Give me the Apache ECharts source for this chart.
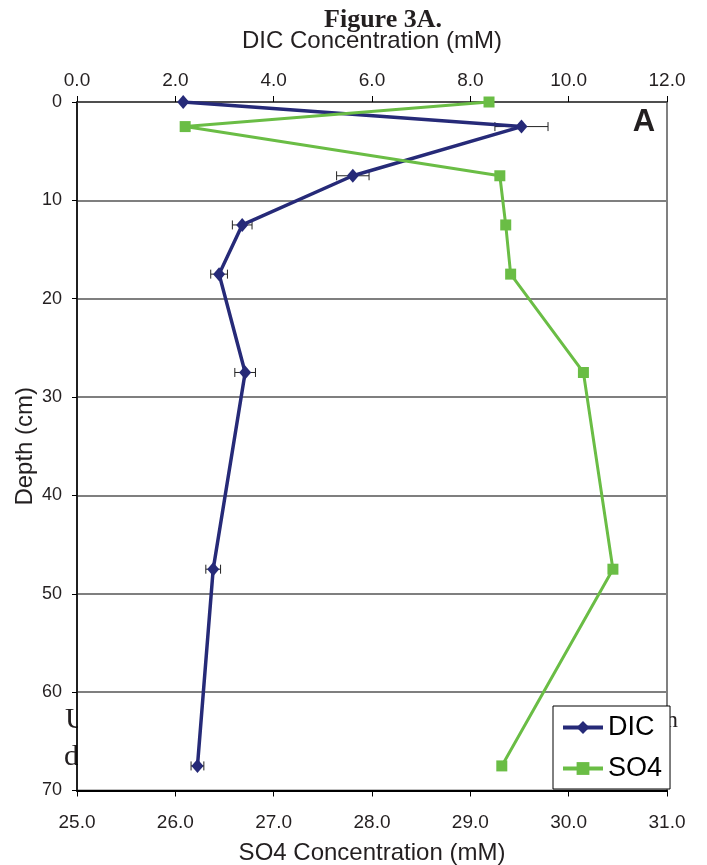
<!DOCTYPE html>
<html><head><meta charset="utf-8">
<script src="https://cdn.jsdelivr.net/npm/echarts@6/dist/echarts.min.js"></script>
<style>html,body{margin:0;padding:0;background:#fff}#c{width:707px;height:865px}</style>
</head><body><div id="c"></div>
<script>
// Depth of each sample (cm)
const depths = [0, 2.5, 7.5, 12.5, 17.5, 27.5, 47.5, 67.5];
// DIC concentration (mM) and its error (±)
const dicValues = [2.16, 9.04, 5.61, 3.36, 2.89, 3.42, 2.77, 2.45];
const dicErrors = [0, 0.54, 0.33, 0.20, 0.17, 0.21, 0.15, 0.13];
// SO4 concentration (mM)
const so4Values = [29.19, 26.10, 29.30, 29.36, 29.41, 30.15, 30.45, 29.32];
// Axis ranges [min, max, interval]
const dicRange = [0, 12, 2];
const so4Range = [25, 31, 1];
const depthRange = [0, 70, 10];

const SANS = 'Liberation Sans, Arial, sans-serif';
const SERIF = 'Liberation Serif, Times New Roman, serif';
const DIC_COLOR = '#262a78';
const SO4_COLOR = '#6abd45';
const TXT = '#231f20';

const chart = echarts.init(document.getElementById('c'), null, {renderer: 'canvas'});

const dicData = depths.map((d, i) => [dicValues[i], d]);
const so4Data = depths.map((d, i) => [so4Values[i], d]);
const errData = depths.map((d, i) => [dicValues[i], d, dicErrors[i]]);

chart.setOption({
  animation: false,
  backgroundColor: '#fff',
  graphic: [
    {type: 'text', x: 65, y: 735, z: 0,
     style: {text: 'U', font: '30px ' + SERIF, fill: '#231f20', verticalAlign: 'bottom'}},
    {type: 'text', x: 64, y: 772, z: 0,
     style: {text: 'd', font: '30px ' + SERIF, fill: '#231f20', verticalAlign: 'bottom'}},
    {type: 'rect', x: 78, y: 698, z: 100, shape: {x: 0, y: 0, width: 20, height: 80}, style: {fill: '#ffffff', stroke: null}},
    {type: 'text', x: 666, y: 733, z: 0,
     style: {text: 'n', font: '24px ' + SERIF, fill: '#231f20', verticalAlign: 'bottom'}},
    {type: 'text', x: 383, y: 33, z: 5,
     style: {text: 'Figure 3A.', font: 'bold 26px ' + SERIF, fill: TXT, align: 'center', verticalAlign: 'bottom'}},
    {type: 'text', x: 644, y: 122, z: 5,
     style: {text: 'A', font: 'bold 31px ' + SANS, fill: TXT, align: 'center', verticalAlign: 'middle'}}
  ],
  grid: {left: 77, right: 40, top: 102, bottom: 74.5, show: true, outerBoundsMode: 'none', containLabel: false,
         backgroundColor: 'transparent', borderColor: '#808080', borderWidth: 2},
  legend: {
    orient: 'vertical', left: 553, top: 706,
    padding: [8, 8, 7, 8], itemWidth: 40, itemHeight: 16, itemGap: 14,
    backgroundColor: '#fff', borderColor: '#000', borderWidth: 1, borderRadius: 0,
    lineStyle: {width: 4},
    textStyle: {fontSize: 27, fontFamily: SANS, color: '#000'},
    data: ['DIC', 'SO4'], z: 10
  },
  xAxis: [
    {type: 'value', position: 'top', min: dicRange[0], max: dicRange[1], interval: dicRange[2],
     name: 'DIC Concentration (mM)', nameLocation: 'middle', nameGap: 49, nameMoveOverlap: false,
     nameTextStyle: {fontSize: 24, fontFamily: SANS, color: TXT},
     axisLine: {show: true, lineStyle: {color: '#404040', width: 1.5}},
     axisTick: {show: true, length: 6, lineStyle: {color: '#000', width: 1}},
     axisLabel: {fontSize: 19, fontFamily: SANS, color: TXT, margin: 12, formatter: v => v.toFixed(1)},
     splitLine: {show: false}},
    {type: 'value', position: 'bottom', min: so4Range[0], max: so4Range[1], interval: so4Range[2],
     name: 'SO4 Concentration (mM)', nameLocation: 'middle', nameGap: 51, nameMoveOverlap: false,
     nameTextStyle: {fontSize: 24, fontFamily: SANS, color: TXT},
     axisLine: {show: true, onZero: false, lineStyle: {color: '#000', width: 2}},
     axisTick: {show: true, length: 6, lineStyle: {color: '#000', width: 1}},
     axisLabel: {fontSize: 19, fontFamily: SANS, color: TXT, margin: 23, formatter: v => v.toFixed(1)},
     splitLine: {show: false}}
  ],
  yAxis: {
    type: 'value', inverse: true, min: depthRange[0], max: depthRange[1], interval: depthRange[2],
    name: 'Depth (cm)', nameLocation: 'middle', nameGap: 40, nameMoveOverlap: false,
    nameTextStyle: {fontSize: 24, fontFamily: SANS, color: TXT},
    axisLine: {show: true, onZero: false, lineStyle: {color: '#000', width: 1.5}},
    axisTick: {show: true, length: 5, lineStyle: {color: '#000', width: 1}},
    axisLabel: {fontSize: 18, fontFamily: SANS, color: TXT, margin: 15},
    splitLine: {show: true, lineStyle: {color: '#7f7f7f', width: 2}}
  },
  series: [
    {name: 'DIC error', type: 'custom', xAxisIndex: 0, yAxisIndex: 0, z: 2,
     encode: {x: 0, y: 1}, data: errData,
     renderItem: function (params, api) {
       const x = api.value(0), y = api.value(1), e = api.value(2);
       if (!e) return null;
       const a = api.coord([x - e, y]), b = api.coord([x + e, y]);
       const h = 4.5, st = {stroke: '#222', lineWidth: 1};
       return {type: 'group', children: [
         {type: 'line', shape: {x1: a[0], y1: a[1], x2: b[0], y2: b[1]}, style: st},
         {type: 'line', shape: {x1: a[0], y1: a[1] - h, x2: a[0], y2: a[1] + h}, style: st},
         {type: 'line', shape: {x1: b[0], y1: b[1] - h, x2: b[0], y2: b[1] + h}, style: st}
       ]};
     }},
    {name: 'DIC', type: 'line', xAxisIndex: 0, yAxisIndex: 0, z: 3, data: dicData,
     symbol: 'diamond', symbolSize: [12, 14], showSymbol: true,
     lineStyle: {color: DIC_COLOR, width: 3.5}, itemStyle: {color: DIC_COLOR}},
    {name: 'SO4', type: 'line', xAxisIndex: 1, yAxisIndex: 0, z: 3, data: so4Data,
     symbol: 'rect', symbolSize: 11, showSymbol: true,
     lineStyle: {color: SO4_COLOR, width: 3}, itemStyle: {color: SO4_COLOR}}
  ]
});
</script>
</body></html>
